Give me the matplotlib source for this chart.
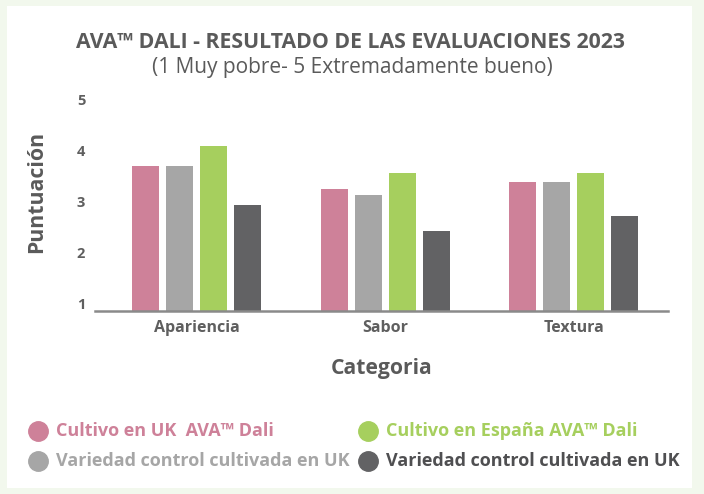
import matplotlib.pyplot as plt
import matplotlib.transforms as mtransforms
from matplotlib.patches import Rectangle
import numpy as np

plt.rcParams['font.family'] = ['Open Sans', 'DejaVu Sans']

categories = ['Apariencia', 'Sabor', 'Textura']
series_names = ['Cultivo en UK  AVA™ Dali',
                'Variedad control cultivada en UK',
                'Cultivo en España AVA™ Dali',
                'Variedad control cultivada en UK']
uk_dali = [3.83, 3.38, 3.52]
uk_control = [3.83, 3.26, 3.52]
es_dali = [4.23, 3.70, 3.70]
uk_control_dark = [3.07, 2.56, 2.85]
colors = ['#CE8199', '#A6A6A6', '#A6CF5E', '#626264']
yticks = [1, 2, 3, 4, 5]

series = [uk_dali, uk_control, es_dali, uk_control_dark]

fig = plt.figure(figsize=(7.04, 4.94), dpi=100)
fig.patch.set_facecolor('#F2F8ED')
fig.patches.append(Rectangle((7 / 704, 6 / 494), 685 / 704, 482 / 494,
                             transform=fig.transFigure, facecolor='white',
                             edgecolor='none', zorder=-5))

ax = fig.add_axes([95 / 704, 1 - 310.5 / 494, 573 / 704, 204 / 494])
ax.set_facecolor('none')
ax.set_zorder(2)

x = np.arange(len(categories))
width = 0.143
pitch = 0.180
for i, vals in enumerate(series):
    pos = x + (i - 1.5) * pitch
    ax.bar(pos, np.array(vals) - 1, bottom=1, width=width, color=colors[i], zorder=2)

ax.set_xlim(-0.54, 2.5)
ax.set_ylim(1, 5)
ax.set_yticks(yticks)
ax.set_yticklabels([str(t) for t in yticks], fontsize=10.5, fontweight='bold', color='#5f5f5f')
ax.set_xticks(x)
ax.set_xticklabels(categories, fontsize=11.5, fontweight='bold', color='#5f5f5f')
ax.tick_params(axis='both', length=0)
ax.tick_params(axis='y', pad=7)
ax.tick_params(axis='x', pad=7)
offset = mtransforms.ScaledTranslation(0, 7 / 100, fig.dpi_scale_trans)
for lab in ax.get_yticklabels():
    lab.set_transform(lab.get_transform() + offset)
for s in ['top', 'right', 'left']:
    ax.spines[s].set_visible(False)
ax.spines['bottom'].set_color('#8a8a8a')
ax.spines['bottom'].set_linewidth(1.8)

ax.set_ylabel('Puntuación', fontsize=15.3, fontweight='bold', color='#5a5a5a')
ax.yaxis.set_label_coords(-0.084, 0.583)
ax.set_xlabel('Categoria', fontsize=15.2, fontweight='bold', color='#5a5a5a', va='center')
ax.xaxis.set_label_coords(0.5, -0.282)

fig.text(351 / 704, 1 - 42 / 494, 'AVA™ DALI - RESULTADO DE LAS EVALUACIONES 2023',
         ha='center', va='center', fontsize=15.3, fontweight='bold', color='#5a5a5a')
fig.text(352 / 704, 1 - 68 / 494, '(1 Muy pobre- 5 Extremadamente bueno)',
         ha='center', va='center', fontsize=15, color='#5a5a5a')

# legend drawn by hand
leg_pos = [(38, 431), (38, 461), (368, 431), (368, 461)]
for (lx, ly), name, c in zip(leg_pos, series_names, colors):
    fig.add_artist(plt.Line2D([lx / 704], [1 - ly / 494], marker='o', markersize=14,
                              color=c, transform=fig.transFigure, linestyle='none'))
    fig.text((lx + 18) / 704, 1 - ly / 494, name, ha='left', va='center',
             fontsize=13, fontweight='bold', color=c if c != '#626264' else '#4f4f51')

fig.savefig('out.png', dpi=100, facecolor=fig.get_facecolor())
